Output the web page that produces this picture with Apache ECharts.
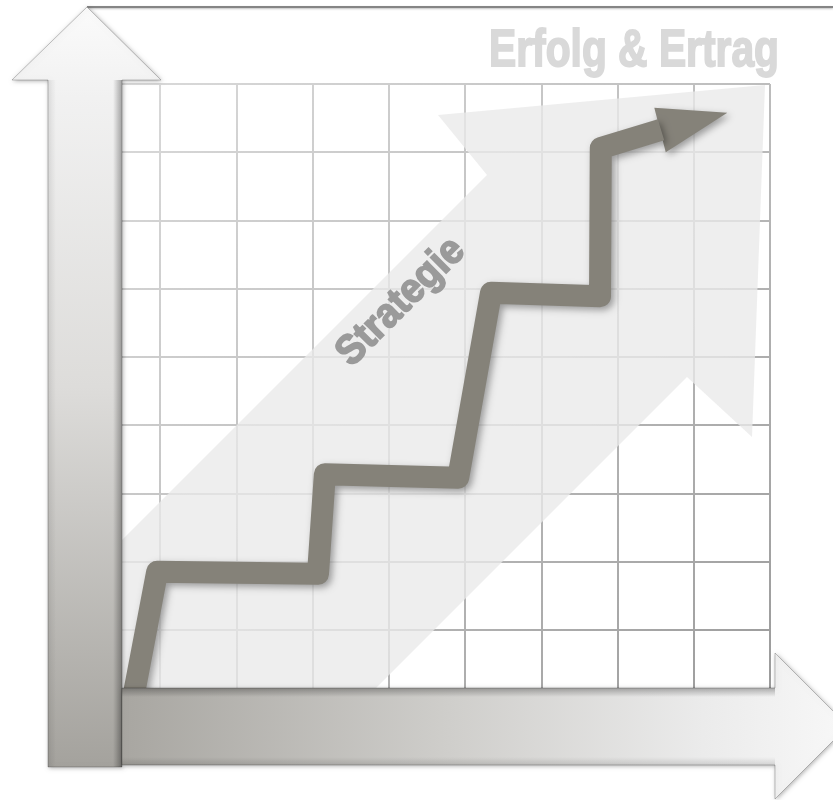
<!DOCTYPE html>
<html>
<head>
<meta charset="utf-8">
<script src="https://cdn.jsdelivr.net/npm/echarts@6/dist/echarts.min.js"></script>
<style>html,body{margin:0;padding:0;background:#fff;}#c{width:833px;height:800px;}</style>
</head>
<body>
<div id="c"></div>
<script>
// ---- data ----
const gridTicks = [0, 1, 2, 3, 4, 5, 6, 7, 8, 9];
const stepX = [0.66, 0.96, 3.07, 3.16, 4.91, 5.34, 6.77, 6.78, 7.57];
const stepY = [0.09, 1.85, 1.82, 3.28, 3.23, 5.94, 5.89, 8.06, 8.33];
const arrowTip = [8.44, 8.58];
const titleText = 'Erfolg & Ertrag';
const labelText = 'Strategie';

const LINE_COLOR = '#858279';
const FONT_FAMILY = '"Liberation Sans", Arial, sans-serif';

function fitScale(text, font, target) {
  const ctx = document.createElement('canvas').getContext('2d');
  ctx.font = font;
  const w = ctx.measureText(text).width;
  return w > 0 ? target / w : 1;
}
const titleFont = 'bold 45px ' + FONT_FAMILY;
const labelFont = 'bold 36px ' + FONT_FAMILY;
const titleScale = fitScale(titleText, titleFont, 290);
const labelScale = fitScale(labelText, labelFont, 163);

const chart = echarts.init(document.getElementById('c'), null, {renderer: 'canvas'});

const linePts = stepX.map((x, i) => [x, stepY[i]]);
const headData = [[stepX[stepX.length - 1], stepY[stepY.length - 1], arrowTip[0], arrowTip[1]]];

const gridLineColor = {
  type: 'linear', global: true, x: 120, y: 80, x2: 780, y2: 700,
  colorStops: [{offset: 0, color: '#dadada'}, {offset: 0.5, color: '#bebebe'}, {offset: 1, color: '#9a9a9a'}]
};

function shadeRect(x, y, w, h, horiz, c0, c1) {
  return {
    type: 'rect', z: 11, silent: true,
    shape: {x: x, y: y, width: w, height: h},
    style: {fill: {type: 'linear', x: 0, y: 0, x2: horiz ? 1 : 0, y2: horiz ? 0 : 1,
      colorStops: [{offset: 0, color: c0}, {offset: 1, color: c1}]}}
  };
}

const option = {
  backgroundColor: '#ffffff',
  animation: false,
  grid: {left: 84, right: 63, top: 84, bottom: 102, containLabel: false},
  xAxis: {
    type: 'value', min: gridTicks[0], max: gridTicks[gridTicks.length - 1], interval: 1,
    axisLine: {show: false}, axisTick: {show: false}, axisLabel: {show: false},
    splitLine: {show: true, lineStyle: {color: gridLineColor, width: 2}}
  },
  yAxis: {
    type: 'value', min: gridTicks[0], max: gridTicks[gridTicks.length - 1], interval: 1,
    axisLine: {show: false}, axisTick: {show: false}, axisLabel: {show: false},
    splitLine: {show: true, lineStyle: {color: gridLineColor, width: 2}}
  },
  graphic: {
    elements: [
      // big translucent strategy arrow
      {
        type: 'polygon', z: 1, silent: true,
        shape: {points: [[487, 175], [438, 115], [765, 85], [752, 437], [687, 377], [374, 690], [122, 690], [122, 540]]},
        style: {fill: 'rgba(233,233,233,0.78)'}
      },
      // title
      {
        type: 'text', z: 1, silent: true, x: 779, y: 52, scaleX: titleScale, scaleY: 1.15,
        style: {text: titleText, font: titleFont, fill: '#d9d9d9', stroke: '#d9d9d9', lineWidth: 1.6,
          align: 'right', verticalAlign: 'middle'}
      },
      // Strategie label
      {
        type: 'text', z: 1, silent: true, x: 401, y: 302, rotation: Math.PI / 4, scaleX: labelScale, scaleY: 1.15,
        style: {text: labelText, font: labelFont, fill: '#9a9a9a', stroke: '#9a9a9a', lineWidth: 1.5,
          align: 'center', verticalAlign: 'middle'}
      },
      // top frame line
      {
        type: 'line', z: 9, silent: true,
        shape: {x1: 87, y1: 7, x2: 833, y2: 7},
        style: {stroke: '#858585', lineWidth: 2, shadowBlur: 2, shadowColor: 'rgba(0,0,0,0.25)', shadowOffsetY: 1}
      },
      // y axis arrow
      {
        type: 'polygon', z: 10, silent: true,
        shape: {points: [[48, 767], [48, 80], [12, 80], [87, 7], [161, 80], [122, 80], [122, 767]]},
        style: {
          fill: {type: 'linear', x: 0, y: 0, x2: 0, y2: 1, colorStops: [
            {offset: 0, color: '#fbfbfb'}, {offset: 0.12, color: '#f1f1f1'}, {offset: 0.5, color: '#dddcda'}, {offset: 1, color: '#a4a29d'}]},
          stroke: 'rgba(0,0,0,0.22)', lineWidth: 1,
          shadowBlur: 4, shadowColor: 'rgba(0,0,0,0.3)', shadowOffsetX: 1, shadowOffsetY: 1
        }
      },
      shadeRect(113, 80, 9, 687, true, 'rgba(0,0,0,0)', 'rgba(0,0,0,0.32)'),
      shadeRect(48, 80, 8, 687, true, 'rgba(0,0,0,0.08)', 'rgba(0,0,0,0)'),
      // x axis arrow
      {
        type: 'polygon', z: 10, silent: true,
        shape: {points: [[122, 688], [775, 688], [775, 653], [848, 726], [775, 799], [775, 765], [122, 765]]},
        style: {
          fill: {type: 'linear', x: 0, y: 0, x2: 1, y2: 0, colorStops: [
            {offset: 0, color: '#a8a6a1'}, {offset: 0.45, color: '#cfcecb'}, {offset: 0.8, color: '#ebebeb'}, {offset: 1, color: '#f8f8f8'}]},
          stroke: 'rgba(0,0,0,0.22)', lineWidth: 1,
          shadowBlur: 4, shadowColor: 'rgba(0,0,0,0.3)', shadowOffsetX: 1, shadowOffsetY: 1
        }
      },
      shadeRect(122, 688, 653, 9, false, 'rgba(0,0,0,0.28)', 'rgba(0,0,0,0)'),
      shadeRect(122, 757, 653, 8, false, 'rgba(0,0,0,0)', 'rgba(0,0,0,0.12)')
    ]
  },
  series: [
    {
      type: 'line', z: 3, data: linePts, showSymbol: false, symbol: 'none', smooth: false,
      lineStyle: {color: LINE_COLOR, width: 22, join: 'round', cap: 'butt',
        shadowBlur: 7, shadowColor: 'rgba(0,0,0,0.35)', shadowOffsetX: 3, shadowOffsetY: 3},
      silent: true
    },
    {
      type: 'custom', z: 3, data: headData, silent: true,
      encode: {x: [0, 2], y: [1, 3]},
      renderItem: function (params, api) {
        const b = api.coord([api.value(0), api.value(1)]);
        const t = api.coord([api.value(2), api.value(3)]);
        const dx = t[0] - b[0], dy = t[1] - b[1];
        const L = Math.hypot(dx, dy);
        const nx = -dy / L, ny = dx / L, hw = 23;
        const back = [b[0] - dx / L * 1, b[1] - dy / L * 1];
        return {
          type: 'polygon',
          shape: {points: [t, [back[0] + nx * hw, back[1] + ny * hw], [back[0] - nx * hw, back[1] - ny * hw]]},
          style: {fill: LINE_COLOR, shadowBlur: 7, shadowColor: 'rgba(0,0,0,0.35)', shadowOffsetX: 3, shadowOffsetY: 3}
        };
      }
    }
  ]
};
chart.setOption(option);
</script>
</body>
</html>
